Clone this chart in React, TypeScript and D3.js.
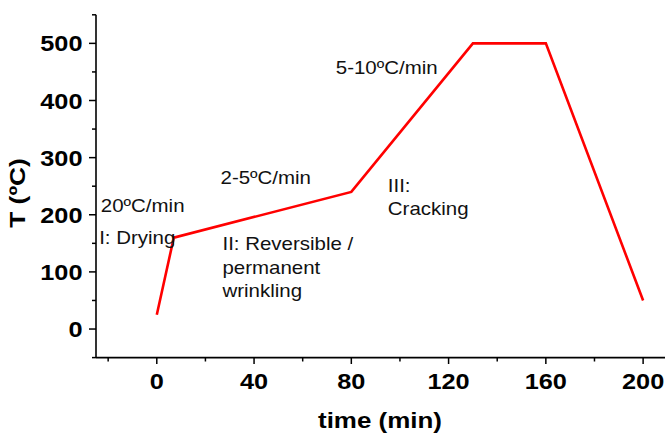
import React from "react";
import * as d3 from "d3";

const timeMin = [0, 7, 80, 130, 160, 200];
const tempC = [25, 160, 240, 500, 500, 50];
const xMajorTicks = [0, 40, 80, 120, 160, 200];
const xMinorTicks = [-20, 20, 60, 100, 140, 180];
const yMajorTicks = [0, 100, 200, 300, 400, 500];
const yMinorTicks = [-50, 50, 150, 250, 350, 450, 550];
const annotationTexts = [
  ["20ºC/min"],
  ["I: Drying"],
  ["2-5ºC/min"],
  ["II: Reversible /", "permanent", "wrinkling"],
  ["5-10ºC/min"],
  ["III:", "Cracking"],
];
const annotationX = [-23, -23.7, 26.2, 27, 73.6, 95];
const annotationY = [205, 149, 254, 138, 447, 240];

const W = 665;
const H = 434;
const FONT = "'Liberation Sans', Arial, Helvetica, sans-serif";

export default function App() {
  const x = d3.scaleLinear().domain([-25, 209]).range([96, 665]);
  const y = d3.scaleLinear().domain([-50, 550]).range([357.6, 14.8]);
  const line = d3
    .line<number>()
    .x((_, i) => x(timeMin[i]))
    .y((d) => y(d));

  return (
    <svg
      width={W}
      height={H}
      style={{ position: "absolute", left: 0, top: 0, background: "#fff" }}
    >
      <rect width={W} height={H} fill="#fff" />
      <path
        d={line(tempC) || ""}
        fill="none"
        stroke="#ff0000"
        strokeWidth={2.6}
        strokeLinejoin="miter"
      />
      <line x1={96} x2={96} y1={14.8} y2={357.6} stroke="#000" strokeWidth={1.6} />
      <line x1={96} x2={665} y1={357.6} y2={357.6} stroke="#000" strokeWidth={1.6} />
      {xMajorTicks.map((t) => (
        <g key={"xm" + t}>
          <line x1={x(t)} x2={x(t)} y1={357.6} y2={364} stroke="#000" strokeWidth={1.5} />
          <text
            transform={`translate(${x(t)},388.5) scale(1.15,1)`}
            textAnchor="middle"
            fontFamily={FONT}
            fontWeight="bold"
            fontSize={22}
          >
            {t}
          </text>
        </g>
      ))}
      {xMinorTicks.map((t) => (
        <line key={"xn" + t} x1={x(t)} x2={x(t)} y1={357.6} y2={361.5} stroke="#000" strokeWidth={1.5} />
      ))}
      {yMajorTicks.map((t) => (
        <g key={"ym" + t}>
          <line x1={89} x2={96} y1={y(t)} y2={y(t)} stroke="#000" strokeWidth={1.5} />
          <text
            transform={`translate(82.5,${y(t) + 8}) scale(1.15,1)`}
            textAnchor="end"
            fontFamily={FONT}
            fontWeight="bold"
            fontSize={22}
          >
            {t}
          </text>
        </g>
      ))}
      {yMinorTicks.map((t) => (
        <line key={"yn" + t} x1={92} x2={96} y1={y(t)} y2={y(t)} stroke="#000" strokeWidth={1.5} />
      ))}
      <text
        transform={`translate(380,428) scale(1.18,1)`}
        textAnchor="middle"
        fontFamily={FONT}
        fontWeight="bold"
        fontSize={22}
      >
        time (min)
      </text>
      <text
        transform={`translate(25,193) rotate(-90) scale(1.2,1)`}
        textAnchor="middle"
        fontFamily={FONT}
        fontWeight="bold"
        fontSize={22}
      >
        T (ºC)
      </text>
      {annotationTexts.map((lines, i) =>
        lines.map((s, j) => (
          <text
            key={"a" + i + "-" + j}
            transform={`translate(${x(annotationX[i])},${y(annotationY[i]) + j * 23.5}) scale(1.17,1)`}
            fontFamily={FONT}
            fontSize={17.5}
            fill="#111"
          >
            {s}
          </text>
        ))
      )}
    </svg>
  );
}
